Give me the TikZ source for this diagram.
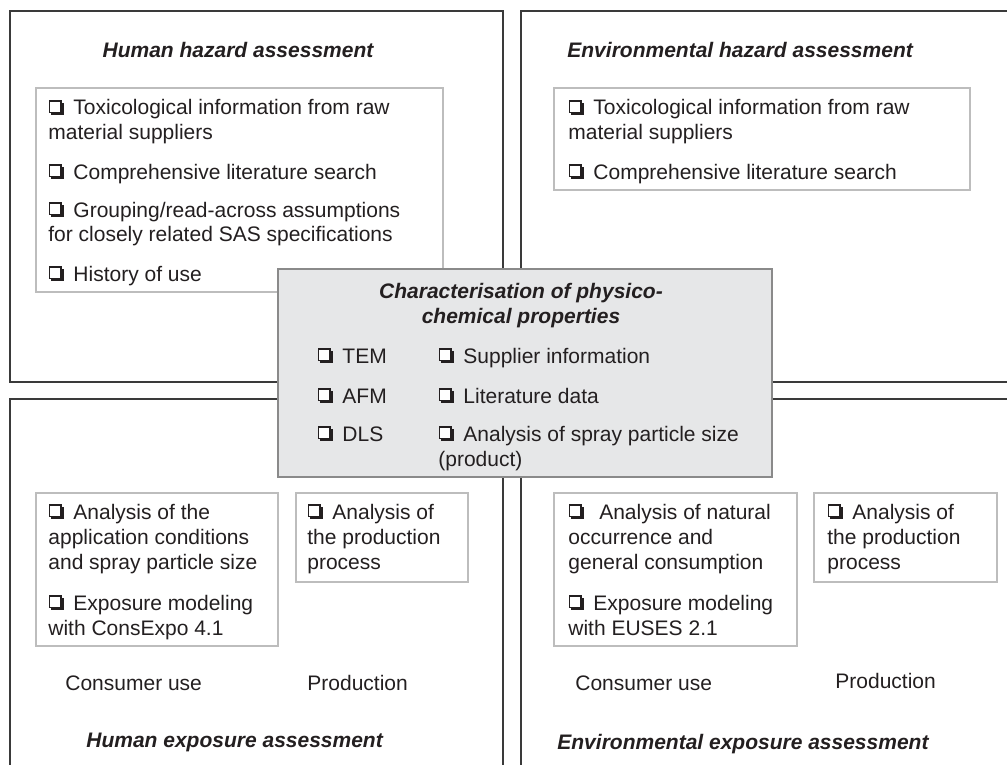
\documentclass[tikz,border=0pt]{standalone}
\usepackage{fontspec}
\setmainfont{Liberation Sans}
\usetikzlibrary{fit}
\definecolor{outerc}{HTML}{3A3A3A}
\definecolor{innerc}{HTML}{BDBDBD}
\definecolor{centfill}{HTML}{E6E7E8}
\definecolor{centdraw}{HTML}{8A8A8A}
\definecolor{txtc}{HTML}{231F20}
\newcommand\cbx{\leavevmode\hbox to 9.6pt{\kern0.4pt\rlap{\kern1.1pt\rule{6.2pt}{6.2pt}}\raisebox{1.7pt}{\fboxsep0pt\fboxrule0.6pt\fbox{\color{white}\rule{5pt}{5pt}}}\hss}}
\newcommand\ml[1]{\begin{tabular}[t]{@{}l@{}}#1\end{tabular}}
\newcommand\mc[1]{\begin{tabular}[t]{@{}c@{}}#1\end{tabular}}
\tikzset{
  outerbox/.style={draw=outerc, line width=0.65pt, inner sep=0pt},
  innerbox/.style={draw=innerc, line width=0.6pt, fill=white, inner sep=0pt},
  centbox/.style={draw=centdraw, line width=0.6pt, fill=centfill, inner sep=0pt},
  txt/.style={anchor=base west, inner sep=0pt, text=txtc,
    font=\fontsize{10.5}{12.5}\selectfont},
  ttl/.style={anchor=base, inner sep=0pt, text=txtc,
    font=\fontsize{10.5}{12.5}\selectfont\bfseries\itshape},
}
\begin{document}
\begin{tikzpicture}[x=0.5pt,y=-0.5pt]
\useasboundingbox (0,0) rectangle (1007,765);
\clip (0,0) rectangle (1007,765);
% outer frames
\node[outerbox, fit={(10,11) (503,382)}] (hh) {};
\node[outerbox, fit={(521,11) (1040,382)}] (eh) {};
\node[outerbox, fit={(10,399) (503,800)}] (he) {};
\node[outerbox, fit={(521,399) (1040,800)}] (ee) {};
% inner boxes
\node[innerbox, fit={(36,88) (443,292)}] (hhbox) {};
\node[innerbox, fit={(554,88) (970,190)}] (ehbox) {};
\node[innerbox, fit={(36,493) (278,646)}] (hebox1) {};
\node[innerbox, fit={(296,493) (468,582)}] (hebox2) {};
\node[innerbox, fit={(554,493) (797,646)}] (eebox1) {};
\node[innerbox, fit={(814,493) (997,582)}] (eebox2) {};
% central box
\node[centbox, fit={(278,269) (772,477)}] (pc) {};
% titles
\node[ttl] (hhtitle) at (238,58) {Human hazard assessment};
\node[ttl, anchor=base west] (ehtitle) at (567,58) {Environmental hazard assessment};
\node[ttl, anchor=base west] (hetitle) at (86,747) {Human exposure assessment};
\node[ttl, anchor=base west] (eetitle) at (557,749) {Environmental exposure assessment};
\node[ttl] (pctitle) at (521,298) {\mc{Characterisation of physico-\\chemical properties}};
% human hazard items
\node[txt] (hh1) at (48,115) {\ml{\cbx{} Toxicological information from raw\\material suppliers}};
\node[txt] (hh2) at (48,179) {\cbx{} Comprehensive literature search};
\node[txt] (hh3) at (48,217) {\ml{\cbx{} Grouping/read-across assumptions\\for closely related SAS specifications}};
\node[txt] (hh4) at (48,281) {\cbx{} History of use};
% environmental hazard items
\node[txt] (eh1) at (568,115) {\ml{\cbx{} Toxicological information from raw\\material suppliers}};
\node[txt] (eh2) at (568,179) {\cbx{} Comprehensive literature search};
% physico-chemical items
\node[txt] (pc1) at (317,363) {\cbx{} TEM};
\node[txt] (pc2) at (317,403) {\cbx{} AFM};
\node[txt] (pc3) at (317,441) {\cbx{} DLS};
\node[txt] (pc4) at (438,363) {\cbx{} Supplier information};
\node[txt] (pc5) at (438,403) {\cbx{} Literature data};
\node[txt] (pc6) at (438,441) {\ml{\cbx{} Analysis of spray particle size\\(product)}};
% human exposure items
\node[txt] (he1) at (48,519) {\ml{\cbx{} Analysis of the\\application conditions\\and spray particle size}};
\node[txt] (he2) at (48,610) {\ml{\cbx{} Exposure modeling\\with ConsExpo 4.1}};
\node[txt] (he3) at (307,519) {\ml{\cbx{} Analysis of\\the production\\process}};
\node[txt] (helab1) at (65,690) {Consumer use};
\node[txt] (helab2) at (307,690) {Production};
% environmental exposure items
\node[txt] (ee1) at (568,519) {\ml{\cbx{}\ \ Analysis of natural\\occurrence and\\general consumption}};
\node[txt] (ee2) at (568,610) {\ml{\cbx{} Exposure modeling\\with EUSES 2.1}};
\node[txt] (ee3) at (827,519) {\ml{\cbx{} Analysis of\\the production\\process}};
\node[txt] (eelab1) at (575,690) {Consumer use};
\node[txt] (eelab2) at (835,688) {Production};
\end{tikzpicture}
\end{document}
